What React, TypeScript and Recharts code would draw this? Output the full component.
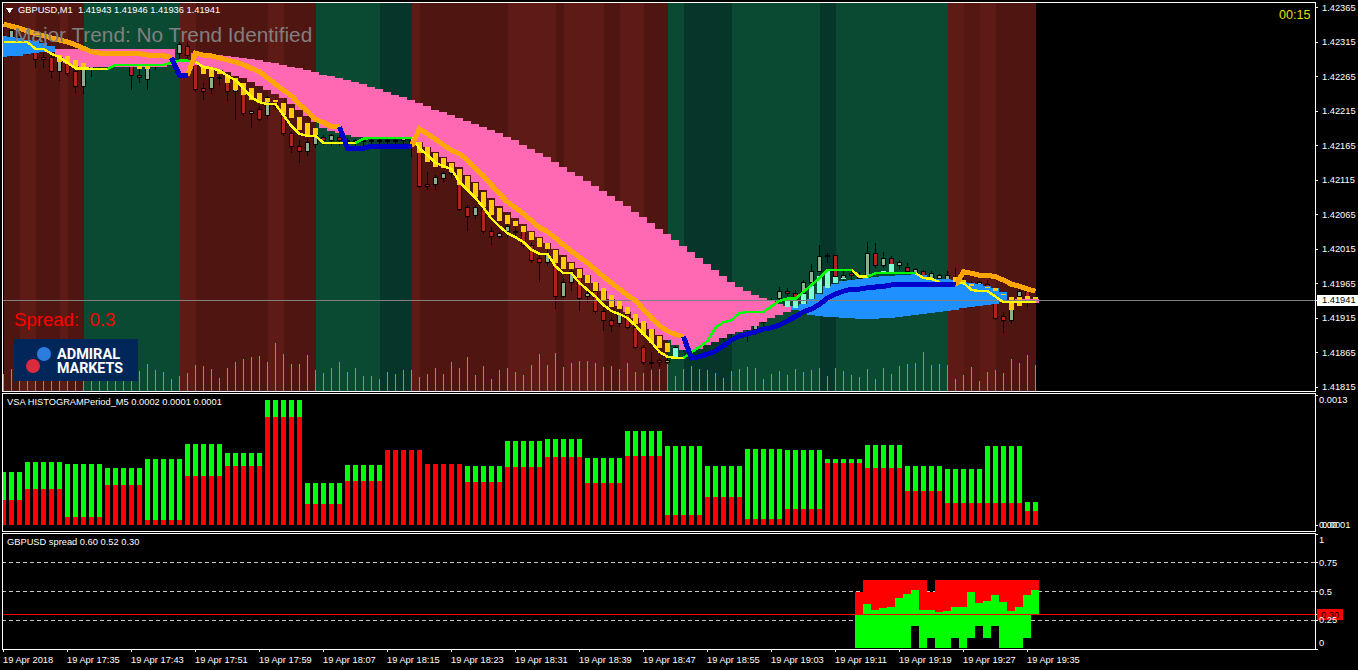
import React from 'react';
import { ComposedChart, Bar, Line, XAxis, YAxis, ReferenceArea, ReferenceLine, CartesianGrid } from 'recharts';

// all prices below are pipettes above 1.40000 (2365 = 1.42365), one entry per M1 bar
const opens = [
  2318, 2318, 2312, 2312, 2301, 2292, 2293, 2272, 2286, 2273, 2251, 2277, 2286, 2285, 2289, 2285, 2282, 2267, 2261, 2280,
  2289, 2295, 2299, 2308, 2285, 2247, 2247, 2264, 2260, 2243, 2241, 2212, 2217, 2209, 2231, 2221, 2182, 2164, 2156, 2167,
  2176, 2173, 2176, 2173, 2172, 2173, 2172, 2173, 2172, 2173, 2173, 2173, 2170, 2108, 2108, 2117, 2124, 2115, 2075, 2063,
  2072, 2040, 2033, 2041, 2041, 2040, 2020, 2001, 1995, 2002, 1946, 1966, 1975, 1946, 1953, 1925, 1911, 1907, 1920, 1902,
  1873, 1851, 1853, 1851, 1859, 1872, 1877, 1886, 1883, 1886, 1895, 1893, 1902, 1909, 1898, 1909, 1941, 1944, 1953, 1951,
  1950, 1967, 1983, 2005, 2005, 1973, 1980, 1973, 1975, 2009, 1991, 2002, 1991, 1988, 1980, 1982, 1973, 1972, 1967, 1973,
  1964, 1964, 1959, 1963, 1937, 1917, 1911, 1946, 1953, 1943,
];
const highs = [
  2324, 2335, 2324, 2318, 2306, 2301, 2298, 2293, 2292, 2280, 2289, 2286, 2289, 2292, 2292, 2295, 2289, 2279, 2286, 2292,
  2301, 2303, 2315, 2315, 2292, 2256, 2272, 2267, 2266, 2253, 2246, 2217, 2222, 2237, 2234, 2225, 2185, 2173, 2176, 2185,
  2180, 2182, 2180, 2176, 2175, 2176, 2175, 2175, 2176, 2175, 2176, 2176, 2173, 2127, 2122, 2128, 2135, 2121, 2079, 2079,
  2075, 2047, 2040, 2054, 2047, 2043, 2025, 2006, 2014, 2008, 1973, 1988, 1979, 1956, 1956, 1930, 1917, 1927, 1922, 1905,
  1876, 1866, 1857, 1860, 1875, 1883, 1886, 1889, 1892, 1898, 1901, 1902, 1912, 1912, 1914, 1920, 1944, 1960, 1959, 1956,
  1970, 1993, 2021, 2009, 2006, 1985, 1985, 1982, 2025, 2024, 2011, 2005, 1999, 1995, 1988, 1985, 1983, 1979, 1983, 1988,
  1975, 1969, 1969, 1970, 1941, 1924, 1934, 1959, 1956, 1946,
];
const lows = [
  2301, 2292, 2303, 2296, 2277, 2277, 2263, 2259, 2266, 2241, 2240, 2264, 2277, 2280, 2280, 2280, 2246, 2256, 2246, 2274,
  2283, 2286, 2289, 2286, 2243, 2231, 2240, 2253, 2230, 2202, 2208, 2190, 2201, 2203, 2217, 2179, 2154, 2140, 2150, 2161,
  2166, 2164, 2164, 2163, 2163, 2163, 2163, 2163, 2164, 2164, 2164, 2148, 2104, 2101, 2101, 2111, 2118, 2070, 2041, 2059,
  2037, 2021, 2030, 2031, 2033, 2017, 1995, 1967, 1991, 1928, 1944, 1954, 1925, 1937, 1921, 1896, 1895, 1902, 1899, 1870,
  1847, 1843, 1844, 1849, 1857, 1866, 1869, 1875, 1877, 1880, 1883, 1888, 1898, 1880, 1891, 1904, 1935, 1941, 1947, 1938,
  1947, 1964, 1982, 1995, 1972, 1967, 1970, 1969, 1973, 1988, 1988, 1991, 1985, 1979, 1976, 1973, 1970, 1967, 1964, 1961,
  1959, 1930, 1956, 1956, 1912, 1893, 1907, 1941, 1931, 1936,
];
const closes = [
  2309, 2332, 2321, 2303, 2289, 2290, 2272, 2289, 2270, 2251, 2285, 2280, 2283, 2289, 2286, 2289, 2266, 2263, 2279, 2286,
  2295, 2301, 2311, 2296, 2246, 2243, 2264, 2263, 2243, 2247, 2212, 2214, 2203, 2234, 2222, 2182, 2163, 2156, 2170, 2180,
  2172, 2179, 2173, 2172, 2173, 2172, 2173, 2172, 2173, 2172, 2175, 2170, 2106, 2106, 2118, 2124, 2131, 2073, 2062, 2075,
  2040, 2033, 2038, 2048, 2040, 2020, 1998, 1995, 2008, 1946, 1966, 1983, 1944, 1950, 1924, 1911, 1904, 1922, 1902, 1873,
  1851, 1850, 1851, 1854, 1872, 1877, 1883, 1880, 1889, 1892, 1889, 1899, 1909, 1898, 1911, 1915, 1940, 1953, 1951, 1941,
  1966, 1983, 2004, 2004, 1975, 1977, 1976, 1977, 2009, 1991, 2002, 1993, 1996, 1982, 1985, 1977, 1979, 1976, 1976, 1964,
  1970, 1959, 1966, 1960, 1915, 1911, 1930, 1953, 1941, 1941,
];
const tickVolume = [
  17, 22, 14, 18, 16, 20, 15, 19, 13, 17, 21, 16, 18, 14, 20, 15, 17, 20, 27, 21,
  19, 12, 15, 18, 26, 25, 22, 13, 23, 29, 32, 34, 35, 29, 48, 37, 27, 27, 36, 21,
  18, 23, 29, 19, 23, 15, 15, 12, 19, 17, 21, 21, 14, 17, 23, 17, 29, 23, 34, 16,
  25, 12, 21, 23, 19, 16, 26, 37, 26, 38, 24, 28, 30, 30, 28, 24, 25, 22, 28, 19,
  18, 21, 22, 27, 15, 22, 25, 22, 21, 18, 13, 20, 22, 24, 23, 12, 17, 20, 16, 22,
  19, 21, 23, 15, 23, 20, 16, 14, 22, 12, 23, 17, 25, 27, 28, 39, 26, 27, 26, 12,
  16, 24, 10, 19, 21, 18, 32, 28, 36, 26,
];

// thick trend line: orange while falling, blue while rising. [first bar, values]
const orangeRuns: [number, number[]][] = [
  [0, [2341, 2338, 2335, 2331, 2327, 2324, 2321, 2318, 2315, 2311, 2306, 2301, 2299, 2298, 2298, 2298, 2298, 2298, 2296, 2296, 2295, 2293]],
  [23, [2267, 2299, 2296, 2295, 2292, 2289, 2286, 2282, 2277, 2272, 2263, 2254, 2245, 2237, 2225, 2214, 2203, 2198, 2193, 2192]],
  [51, [2164, 2189, 2182, 2174, 2166, 2158, 2153, 2144, 2132, 2121, 2108, 2095, 2083, 2075, 2066, 2056, 2046, 2040, 2031, 2021, 2012, 2003, 1995, 1985, 1975, 1966, 1957, 1948, 1940, 1928, 1915, 1904, 1896, 1891, 1888]],
  [119, [1963, 1982, 1980, 1977, 1977, 1975, 1970, 1964, 1961, 1957, 1954]],
];
const blueRuns: [number, number[]][] = [
  [21, [2292, 2267, 2267]],
  [42, [2192, 2161, 2161, 2161, 2164, 2164, 2164, 2164, 2164, 2164]],
  [85, [1888, 1857, 1859, 1863, 1867, 1875, 1883, 1889, 1892, 1895, 1899, 1901, 1905, 1911, 1917, 1924, 1928, 1935, 1944, 1950, 1954, 1957, 1957, 1959, 1960, 1961, 1963, 1964, 1964, 1964, 1964, 1964, 1964, 1964, 1963]],
];
// thin line: yellow / green
const yellowRuns: [number, number[]][] = [
  [0, [2315, 2315, 2315, 2315, 2305, 2305, 2298, 2293, 2285, 2277, 2277, 2276, 2276, 2276]],
  [24, [2286, 2279, 2277, 2274, 2266, 2260, 2248, 2235, 2228, 2225, 2225, 2209, 2193, 2182, 2179, 2179, 2169, 2169, 2169, 2169, 2169]],
  [51, [2176, 2161, 2151, 2140, 2135, 2131, 2112, 2101, 2089, 2075, 2059, 2048, 2038, 2032, 2025, 2014, 2008, 2008, 1990, 1980, 1980, 1966, 1956, 1946, 1934, 1925, 1921, 1915, 1904, 1892, 1880, 1866, 1859, 1857, 1857]],
  [106, [1985, 1975, 1975]],
  [114, [1980, 1973, 1972, 1967]],
  [119, [1966, 1966, 1956, 1954, 1954, 1946, 1938, 1938, 1938, 1938, 1938]],
];
const greenRuns: [number, number[]][] = [
  [13, [2276, 2282, 2282, 2282, 2282, 2282, 2282, 2282, 2285, 2288, 2288, 2286]],
  [44, [2169, 2175, 2176, 2176, 2176, 2176, 2176, 2176]],
  [85, [1857, 1866, 1873, 1882, 1901, 1909, 1912, 1922, 1924, 1924, 1924, 1932, 1940, 1943, 1943, 1953, 1963, 1973, 1985, 1985, 1985, 1985]],
  [108, [1975, 1980, 1980, 1980, 1980, 1980, 1980]],
];

// cloud columns. [first bar, tops, bottoms]
const pinkRuns: [number, number[], number[]][] = [
  [7,
    [2305, 2305, 2305, 2305, 2305, 2305, 2305, 2305, 2305, 2305, 2305, 2305, 2305, 2305, 2305, 2289, 2289, 2299, 2298, 2296, 2296, 2295, 2293, 2292, 2290, 2289, 2286, 2285, 2282, 2279, 2277, 2274, 2272, 2267, 2266, 2263, 2260, 2257, 2254, 2250, 2247, 2243, 2238, 2235, 2231, 2227, 2222, 2217, 2214, 2209, 2205, 2201, 2196, 2192, 2187, 2183, 2177, 2173, 2166, 2160, 2154, 2148, 2141, 2134, 2127, 2121, 2114, 2106, 2099, 2092, 2085, 2077, 2069, 2061, 2053, 2044, 2037, 2028, 2019, 2011, 2002, 1993, 1985, 1976, 1967, 1960, 1954, 1948, 1944, 1940, 1935, 1932],
    [2293, 2285, 2280, 2279, 2279, 2279, 2279, 2279, 2279, 2279, 2279, 2279, 2279, 2279, 2282, 2270, 2270, 2282, 2280, 2277, 2274, 2272, 2266, 2263, 2257, 2251, 2245, 2240, 2234, 2225, 2217, 2208, 2199, 2190, 2186, 2183, 2180, 2177, 2177, 2177, 2177, 2177, 2177, 2177, 2177, 2170, 2163, 2156, 2148, 2141, 2134, 2122, 2112, 2101, 2089, 2077, 2069, 2060, 2051, 2041, 2032, 2024, 2015, 2006, 1996, 1988, 1977, 1966, 1954, 1943, 1932, 1924, 1915, 1908, 1899, 1890, 1883, 1876, 1869, 1869, 1870, 1876, 1880, 1886, 1892, 1895, 1898, 1904, 1909, 1915, 1920, 1924]],
  [127, [1943, 1943, 1943], [1937, 1937, 1937]],
];
const skyRuns: [number, number[], number[]][] = [
  [0, [2324, 2322, 2321, 2318, 2316, 2314, 2309], [2293, 2295, 2295, 2298, 2299, 2301, 2301]],
  [99,
    [1932, 1935, 1943, 1950, 1962, 1964, 1969, 1970, 1972, 1973, 1975, 1976, 1976, 1977, 1977, 1979, 1977, 1972, 1972, 1972, 1970, 1967, 1966, 1964, 1962, 1959, 1953],
    [1927, 1924, 1919, 1918, 1917, 1917, 1915, 1915, 1914, 1914, 1914, 1915, 1915, 1917, 1918, 1919, 1921, 1922, 1924, 1925, 1927, 1930, 1931, 1932, 1934, 1935, 1938]],
];
const goldRuns: [number, number[], number[]][] = [
  [7, [2296, 2295, 2289, 2285], [2286, 2283, 2277, 2277]],
  [17, [2280, 2280], [2276, 2276]],
  [25,
    [2279, 2277, 2274, 2266, 2263, 2256, 2248, 2241, 2234, 2231, 2227, 2219, 2206, 2198, 2190],
    [2269, 2264, 2269, 2256, 2245, 2238, 2231, 2227, 2228, 2228, 2209, 2205, 2187, 2180, 2180]],
  [52,
    [2170, 2163, 2154, 2147, 2140, 2131, 2121, 2111, 2098, 2086, 2075, 2064, 2056, 2048, 2040, 2031, 2024, 2014, 2004, 1995, 1986, 1977, 1967, 1959, 1948, 1940, 1931, 1921, 1911, 1899, 1889, 1879],
    [2154, 2141, 2134, 2132, 2127, 2108, 2101, 2091, 2076, 2064, 2056, 2051, 2048, 2040, 2028, 2018, 2015, 1995, 1986, 1986, 1973, 1966, 1954, 1941, 1931, 1928, 1921, 1906, 1891, 1879, 1872, 1866]],
  [119, [1975, 1970, 1964], [1963, 1966, 1961]],
  [123, [1960, 1959, 1950, 1946, 1946, 1947, 1946], [1959, 1954, 1948, 1927, 1932, 1943, 1943]],
];
const mintRuns: [number, number[], number[]][] = [
  [84, [1872], [1859]],
  [98, [1941, 1941, 1950, 1961, 1976, 1985, 1975, 1973], [1931, 1930, 1935, 1943, 1951, 1959, 1966, 1972]],
  [110, [1983, 1993], [1980, 1980]],
];

// background bands: band k runs from bandEdges[k] to bandEdges[k + 1]
const bandEdges = [0, 2, 4, 7, 8, 10, 22, 24, 33, 35, 39, 47, 51, 52, 63, 69, 70, 75, 77, 80, 83, 85, 91, 102, 104, 118, 120, 122, 124, 129];
const bandColors = [
  '#4f1511', '#5e1a14', '#4f1511', '#5e1a14', '#4f1511', '#0a4a33', '#5e1a14', '#4f1511', '#5e1a14', '#4f1511',
  '#0a4a33', '#063529', '#5e1a14', '#4f1511', '#5e1a14', '#4f1511', '#5e1a14', '#4f1511', '#5e1a14', '#4f1511',
  '#0a4a33', '#063529', '#0a4a33', '#063529', '#0a4a33', '#5e1a14', '#541711', '#5e1a14', '#4f1511',
];

// VSA panel, in units of 0.00001
const vsaRed = [
  25, 25, 25, 36, 36, 36, 36, 36, 8, 8, 8, 8, 8, 40, 40, 40, 40, 40, 5, 5,
  5, 5, 5, 49, 49, 49, 49, 49, 59, 59, 59, 59, 59, 108, 108, 108, 108, 108, 21, 21,
  21, 21, 21, 44, 44, 44, 44, 44, 75, 75, 75, 75, 75, 61, 61, 61, 61, 61, 43, 43,
  43, 43, 43, 58, 58, 58, 58, 58, 68, 68, 68, 68, 68, 42, 42, 42, 42, 42, 69, 69,
  69, 69, 69, 10, 10, 10, 10, 10, 28, 28, 28, 28, 28, 6, 6, 6, 6, 6, 16, 16,
  16, 16, 16, 62, 62, 62, 62, 62, 57, 57, 57, 57, 57, 34, 34, 34, 34, 34, 22, 22,
  22, 22, 22, 22, 22, 22, 22, 22, 14, 14,
];
const vsaGreen = [
  28, 28, 28, 27, 27, 27, 27, 27, 53, 53, 53, 53, 53, 17, 17, 17, 17, 17, 61, 61,
  61, 61, 61, 32, 32, 32, 32, 32, 13, 13, 13, 13, 13, 17, 17, 17, 17, 17, 21, 21,
  21, 21, 21, 16, 16, 16, 16, 16, 0, 0, 0, 0, 0, 0, 0, 0, 0, 0, 16, 16,
  16, 16, 16, 26, 26, 26, 26, 26, 18, 18, 18, 18, 18, 25, 25, 25, 25, 25, 25, 25,
  25, 25, 25, 69, 69, 69, 69, 69, 31, 31, 31, 31, 31, 70, 70, 70, 70, 70, 59, 59,
  59, 59, 59, 4, 4, 4, 4, 4, 23, 23, 23, 23, 23, 25, 25, 25, 25, 25, 34, 34,
  34, 34, 34, 57, 57, 57, 57, 57, 9, 9,
];

// spread panel: bars 107..129
const spreadFirstBar = 107;
const spreadTop = [0.5, 0.6, 0.6, 0.6, 0.6, 0.6, 0.6, 0.6, 0.6, 0.5, 0.6, 0.6, 0.6, 0.6, 0.6, 0.6, 0.6, 0.6, 0.6, 0.6, 0.6, 0.6, 0.6];
const spreadGreenTop = [null, 0.39, 0.34, 0.355, 0.365, 0.44, 0.48, 0.51, 0.34, 0.34, 0.325, 0.33, 0.365, 0.365, 0.5, 0.4, 0.415, 0.47, 0.41, 0.33, 0.365, 0.47, 0.51];
const spreadBase = [0.005, 0.005, 0.005, 0.005, 0.005, 0.005, 0.005, 0.2, 0.005, 0.1, 0.005, 0.005, 0.1, 0.005, 0.1, 0.2, 0.1, 0.2, 0.005, 0.005, 0.005, 0.1, null];
const spreadFloor = 0.3;
const spreadCeilGreen = 0.295;

const priceTicks = [1.42365, 1.42315, 1.42265, 1.42215, 1.42165, 1.42115, 1.42065, 1.42015, 1.41965, 1.41941, 1.41915, 1.41865, 1.41815];
const currentPrice = 1.41941;
const spreadTicks = [1, 0.75, 0.5, 0.3, 0.25, 0];
const timeTickBars = [0, 8, 16, 24, 32, 40, 48, 56, 64, 72, 80, 88, 96, 104, 112, 120, 128];
const timeLabels = [
  '19 Apr 2018', '19 Apr 17:35', '19 Apr 17:43', '19 Apr 17:51', '19 Apr 17:59', '19 Apr 18:07', '19 Apr 18:15', '19 Apr 18:23', '19 Apr 18:31',
  '19 Apr 18:39', '19 Apr 18:47', '19 Apr 18:55', '19 Apr 19:03', '19 Apr 19:11', '19 Apr 19:19', '19 Apr 19:27', '19 Apr 19:35',
];

const toPrice = (p: number) => 1.4 + p / 100000;

const priceRows: any[] = opens.map((o, i) => ({
  i, open: toPrice(o), high: toPrice(highs[i]), low: toPrice(lows[i]), close: toPrice(closes[i]),
  candle: [toPrice(lows[i]), toPrice(highs[i])], volume: tickVolume[i],
}));
const putLine = (key: string, runs: [number, number[]][]) =>
  runs.forEach(([start, vals]) => vals.forEach((v, k) => { priceRows[start + k][key] = toPrice(v); }));
const putRange = (key: string, runs: [number, number[], number[]][]) =>
  runs.forEach(([start, tops, bots]) => tops.forEach((t, k) => { priceRows[start + k][key] = [toPrice(bots[k]), toPrice(t)]; }));
putLine('orange', orangeRuns);
putLine('blue', blueRuns);
putLine('yellow', yellowRuns);
putLine('green', greenRuns);
putRange('pink', pinkRuns);
putRange('sky', skyRuns);
putRange('gold', goldRuns);
putRange('mint', mintRuns);

const vsaRows = vsaRed.map((red, i) => ({ i, red, green: vsaGreen[i] }));

const spreadRows = spreadTop.map((top, k) => ({
  i: spreadFirstBar + k,
  red: [spreadFloor, top],
  up: spreadGreenTop[k] === null ? undefined : [spreadFloor, spreadGreenTop[k]],
  low: spreadBase[k] === null ? undefined : [spreadBase[k], spreadCeilGreen],
}));

const W = 1358;
const UI_FONT = '"Liberation Sans", Arial, sans-serif';
const xDomain: [number, number] = [-0.1875, 163.9375];

const hiddenX = (id: string) => (
  <XAxis key={id} xAxisId={id} type="number" dataKey="i" domain={xDomain} allowDataOverflow hide />
);

const labelStyle = { fill: '#fff', fontSize: 9.3, fontFamily: UI_FONT };

// the numeric axis narrows the bars, so keep the bar's centre and force the real pixel width
function ColumnShape(props: any) {
  const { x, y, width, height, fill, px } = props;
  if (!height || Number.isNaN(y)) return null;
  return <rect x={Math.round(x + width / 2 - px / 2)} y={y} width={px} height={height} fill={fill} />;
}

function CandleShape(props: any) {
  const { x, y, width, height, payload } = props;
  if (!height || Number.isNaN(y)) return null;
  const perUnit = height / (payload.high - payload.low);
  const bull = payload.close >= payload.open;
  const mid = Math.floor(x + width / 2);
  const bodyTop = y + (payload.high - Math.max(payload.open, payload.close)) * perUnit;
  const bodyH = Math.max(1, Math.abs(payload.open - payload.close) * perUnit);
  return (
    <g>
      <rect x={mid} y={y} width={1} height={height} fill="#000" />
      <rect x={mid - 1.5} y={bodyTop} width={4} height={bodyH} fill={bull ? '#8fb08f' : '#b22222'} stroke="#000" strokeWidth={1} />
    </g>
  );
}

function PriceTick({ y, payload }: any) {
  const v = payload.value;
  if (v === currentPrice) {
    return (
      <g>
        <rect x={1317} y={y - 5.5} width={41} height={11} fill="#fff" />
        <text x={1322} y={y} dominantBaseline="central" style={{ ...labelStyle, fill: '#000' }}>{v.toFixed(5)}</text>
      </g>
    );
  }
  return <text x={1322} y={y} dominantBaseline="central" style={labelStyle}>{v.toFixed(5)}</text>;
}

function VsaTick({ y, payload }: any) {
  if (payload.value === 0) {
    return (
      <g>
        <text x={1319} y={y} dominantBaseline="central" style={labelStyle}>0.00</text>
        <text x={1322} y={y} dominantBaseline="central" style={labelStyle}>0.0001</text>
      </g>
    );
  }
  return <text x={1319} y={y + 5} dominantBaseline="central" style={labelStyle}>0.0013</text>;
}

function SpreadTick({ y, payload }: any) {
  const v = payload.value;
  if (v === 0.3) {
    return (
      <g>
        <rect x={1317} y={y - 6} width={26} height={11} fill="#f00" />
        <text x={1321} y={y} dominantBaseline="central" style={{ ...labelStyle, fill: '#000' }}>0.30</text>
      </g>
    );
  }
  const shift = v === 1 ? 6 : v === 0 ? -6 : 0;
  return <text x={1319} y={y + shift} dominantBaseline="central" style={labelStyle}>{String(v)}</text>;
}

function TimeTick({ x, y, payload }: any) {
  const k = timeTickBars.indexOf(payload.value);
  return <text x={x - 0.5} y={y + 9} style={labelStyle}>{timeLabels[k]}</text>;
}

const frame = (top: number, height: number) => (
  <div style={{ position: 'absolute', left: 2, top, width: 1314, height: height + 1, boxSizing: 'border-box', border: '1px solid #fff', pointerEvents: 'none' }} />
);

const caption = (left: number, top: number, text: string) => (
  <div style={{ position: 'absolute', left, top, color: '#fff', font: `9.3px ${UI_FONT}`, lineHeight: '12px', whiteSpace: 'pre' }}>{text}</div>
);

function AdmiralLogo() {
  return (
    <svg width={124} height={42} style={{ position: 'absolute', left: 14, top: 339, shapeRendering: 'auto' }}>
      <rect width={124} height={42} fill="#00265a" />
      <circle cx={30} cy={15} r={7} fill="#2d7de0" />
      <circle cx={19} cy={27} r={7} fill="#dc2a3c" />
      <text x={43} y={19.5} textLength={63} lengthAdjust="spacingAndGlyphs" fill="#fff" fontFamily="Roboto" fontWeight={700} fontSize={14.5}>ADMIRAL</text>
      <text x={43} y={33.5} textLength={66} lengthAdjust="spacingAndGlyphs" fill="#fff" fontFamily="Roboto" fontWeight={700} fontSize={14.5}>MARKETS</text>
    </svg>
  );
}

export default function App() {
  return (
    <div style={{ position: 'absolute', left: 0, top: 0, width: W, height: 670, background: '#000', overflow: 'hidden', shapeRendering: 'crispEdges' }}>
      <div style={{ position: 'absolute', left: 0, top: 0 }}>
        <ComposedChart width={W} height={393} data={priceRows} margin={{ left: 2, right: 0, top: 3, bottom: 2 }}>
          <XAxis type="number" dataKey="i" domain={xDomain} allowDataOverflow hide />
          {['vol', 'candle', 'pink', 'sky', 'gold', 'mint'].map(hiddenX)}
          <YAxis orientation="right" width={43} domain={[1.418093, 1.423716]} allowDataOverflow ticks={priceTicks} interval={0}
            axisLine={{ stroke: '#fff' }} tickLine={{ stroke: '#fff' }} tickSize={3} tick={<PriceTick />} />
          <YAxis yAxisId="vol" domain={[0, 388]} hide />
          {bandColors.map((c, k) => (
            <ReferenceArea key={k} x1={bandEdges[k]} x2={bandEdges[k + 1]} fill={c} fillOpacity={1} stroke="none" />
          ))}
          <ReferenceLine y={currentPrice} stroke="#808080" />
          <Bar xAxisId="vol" yAxisId="vol" dataKey="volume" barSize={1} fill="#44c044" isAnimationActive={false} />
          <Bar xAxisId="candle" dataKey="candle" barSize={5} shape={<CandleShape />} isAnimationActive={false} />
          <Bar xAxisId="pink" dataKey="pink" barSize={8} fill="#ff69b4" shape={<ColumnShape px={8} />} isAnimationActive={false} />
          <Bar xAxisId="sky" dataKey="sky" barSize={8} fill="#1e90ff" shape={<ColumnShape px={8} />} isAnimationActive={false} />
          <Bar xAxisId="gold" dataKey="gold" barSize={5} fill="#ffcc00" shape={<ColumnShape px={5} />} isAnimationActive={false} />
          <Bar xAxisId="mint" dataKey="mint" barSize={5} fill="#7fffd4" shape={<ColumnShape px={5} />} isAnimationActive={false} />
          <Line dataKey="yellow" stroke="#ffff00" strokeWidth={2.5} dot={false} activeDot={false} isAnimationActive={false} />
          <Line dataKey="green" stroke="#00ff00" strokeWidth={2.5} dot={false} activeDot={false} isAnimationActive={false} />
          <Line dataKey="orange" stroke="#ffa500" strokeWidth={5} dot={false} activeDot={false} isAnimationActive={false} />
          <Line dataKey="blue" stroke="#0000cd" strokeWidth={5} dot={false} activeDot={false} isAnimationActive={false} />
        </ComposedChart>
      </div>
      <div style={{ position: 'absolute', left: 0, top: 391 }}>
        <ComposedChart width={W} height={140} data={vsaRows} margin={{ left: 2, right: 0, top: 3, bottom: 0 }}>
          <XAxis type="number" dataKey="i" domain={xDomain} allowDataOverflow hide />
          <YAxis orientation="right" width={43} domain={[-6, 131]} allowDataOverflow ticks={[130, 0]} interval={0}
            axisLine={{ stroke: '#fff' }} tickLine={{ stroke: '#fff' }} tickSize={3} tick={<VsaTick />} />
          <Bar dataKey="red" stackId="vsa" barSize={5} fill="#ff0000" shape={<ColumnShape px={5} />} isAnimationActive={false} />
          <Bar dataKey="green" stackId="vsa" barSize={5} fill="#00ff00" shape={<ColumnShape px={5} />} isAnimationActive={false} />
        </ComposedChart>
      </div>
      <div style={{ position: 'absolute', left: 0, top: 530 }}>
        <ComposedChart width={W} height={140} data={spreadRows} margin={{ left: 2, right: 0, top: 4, bottom: 0 }}>
          <CartesianGrid vertical={false} horizontalValues={[0.25, 0.5, 0.75]} stroke="#c8c8c8" strokeDasharray="4 3" />
          <XAxis type="number" dataKey="i" domain={xDomain} allowDataOverflow height={21} ticks={timeTickBars} interval={0}
            axisLine={{ stroke: '#fff' }} tickLine={{ stroke: '#fff' }} tickSize={3} tick={<TimeTick />} />
          {['up', 'low'].map(hiddenX)}
          <YAxis orientation="right" width={43} domain={[0, 1]} ticks={spreadTicks} interval={0}
            axisLine={{ stroke: '#fff' }} tickLine={{ stroke: '#fff' }} tickSize={3} tick={<SpreadTick />} />
          <Bar dataKey="red" barSize={8} fill="#ff0000" shape={<ColumnShape px={8} />} isAnimationActive={false} />
          <Bar xAxisId="up" dataKey="up" barSize={8} fill="#00ff00" shape={<ColumnShape px={8} />} isAnimationActive={false} />
          <Bar xAxisId="low" dataKey="low" barSize={8} fill="#00ff00" shape={<ColumnShape px={8} />} isAnimationActive={false} />
          <ReferenceLine y={spreadFloor} stroke="#ff0000" />
        </ComposedChart>
      </div>

      {frame(2, 389)}
      {frame(393, 138)}
      {frame(533, 116)}

      <svg width={10} height={8} style={{ position: 'absolute', left: 5, top: 7 }}><polygon points="1,1 8,1 4.5,6" fill="#fff" /></svg>
      {caption(18, 4, 'GBPUSD,M1  1.41943 1.41946 1.41936 1.41941')}
      {caption(7, 396, 'VSA HISTOGRAMPeriod_M5 0.0002 0.0001 0.0001')}
      {caption(7, 536, 'GBPUSD spread 0.60 0.52 0.30')}
      <div style={{ position: 'absolute', left: 14, top: 23, color: '#808080', font: `20.8px ${UI_FONT}`, lineHeight: '24px', whiteSpace: 'pre' }}>Major Trend: No Trend Identified</div>
      <div style={{ position: 'absolute', left: 14, top: 309, color: '#ff0000', font: `18.6px ${UI_FONT}`, lineHeight: '22px', whiteSpace: 'pre' }}>Spread:  0.3</div>
      <div style={{ position: 'absolute', left: 1279, top: 7, color: '#e0e000', font: `12.6px ${UI_FONT}`, lineHeight: '16px' }}>00:15</div>
      <AdmiralLogo />
    </div>
  );
}
